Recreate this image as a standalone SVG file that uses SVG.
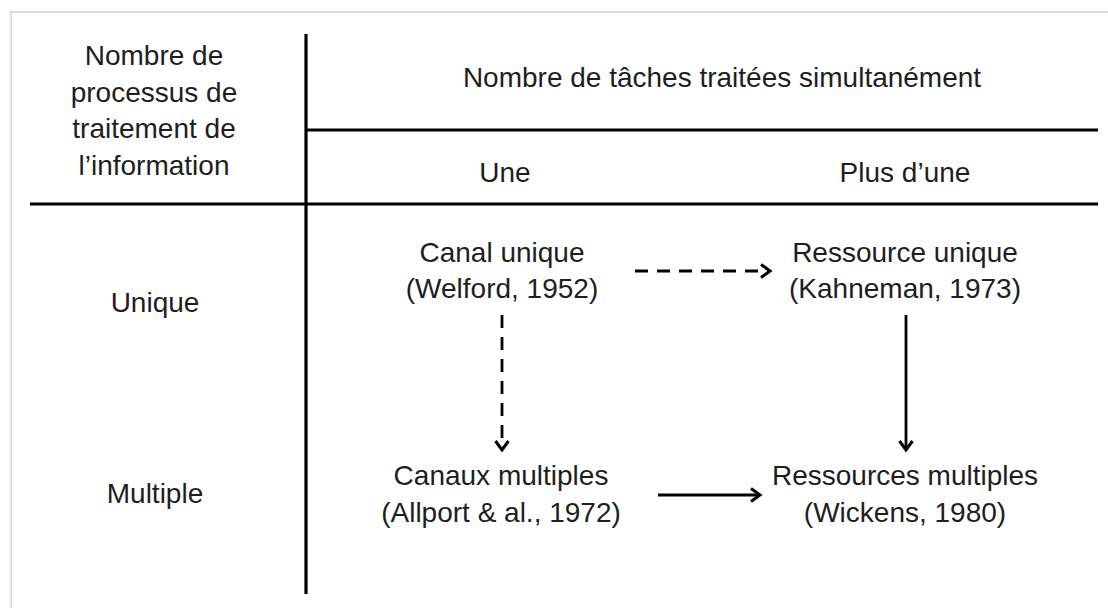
<svg xmlns="http://www.w3.org/2000/svg" width="1108" height="608" viewBox="0 0 1108 608">
  <defs>
    <style>
      text { font-family: "Liberation Sans", Arial, sans-serif; font-size: 28px; fill: #1e1e1e; text-anchor: middle; }
      .rule { stroke: #000; stroke-width: 3.2; fill: none; }
      .conn { stroke: #000; stroke-width: 2.8; fill: none; }
      .dash { stroke-dasharray: 13 9; }
    </style>
    <marker id="arr" markerUnits="userSpaceOnUse" markerWidth="18" markerHeight="18" refX="12" refY="8" orient="auto">
      <path d="M3,1.5 L12,8 L3,14.5" fill="none" stroke="#000" stroke-width="3"/>
    </marker>
  </defs>
  <rect x="0" y="0" width="1108" height="608" fill="#fff"/>
  <rect x="11" y="12" width="1110" height="610" fill="#fff" stroke="#cfcfcf" stroke-width="1.5"/>
  <line x1="10.5" y1="13" x2="10.5" y2="608" stroke="#e6e6e6" stroke-width="1.5"/>

  <g id="grid">
    <line class="rule" x1="306" y1="34" x2="306" y2="594"/>
    <line class="rule" x1="306" y1="130" x2="1098" y2="130"/>
    <line class="rule" x1="30" y1="204" x2="1098" y2="204"/>
  </g>

  <g id="row-header">
    <text x="154" y="65">Nombre de</text>
    <text x="154" y="101.5">processus de</text>
    <text x="154" y="138">traitement de</text>
    <text x="154" y="175">l’information</text>
  </g>
  <g id="col-header">
    <text x="722" y="87">Nombre de tâches traitées simultanément</text>
  </g>
  <g id="col-une"><text x="505" y="182">Une</text></g>
  <g id="col-plus"><text x="905" y="182">Plus d’une</text></g>
  <g id="row-unique"><text x="155" y="312">Unique</text></g>
  <g id="row-multiple"><text x="155" y="503">Multiple</text></g>

  <g id="canal-unique">
    <text x="502" y="262">Canal unique</text>
    <text x="502" y="298">(Welford, 1952)</text>
  </g>
  <g id="ressource-unique">
    <text x="905" y="262">Ressource unique</text>
    <text x="905" y="298">(Kahneman, 1973)</text>
  </g>
  <g id="canaux-multiples">
    <text x="501" y="485">Canaux multiples</text>
    <text x="501" y="522">(Allport &amp; al., 1972)</text>
  </g>
  <g id="ressources-multiples">
    <text x="905" y="485">Ressources multiples</text>
    <text x="905" y="522">(Wickens, 1980)</text>
  </g>

  <g id="connectors">
    <line class="conn dash" x1="635" y1="271" x2="770" y2="271" marker-end="url(#arr)"/>
    <line class="conn dash" x1="502" y1="315" x2="502" y2="450" marker-end="url(#arr)"/>
    <line class="conn" x1="658" y1="495" x2="760" y2="495" marker-end="url(#arr)"/>
    <line class="conn" x1="906" y1="315" x2="906" y2="450" marker-end="url(#arr)"/>
  </g>
</svg>
